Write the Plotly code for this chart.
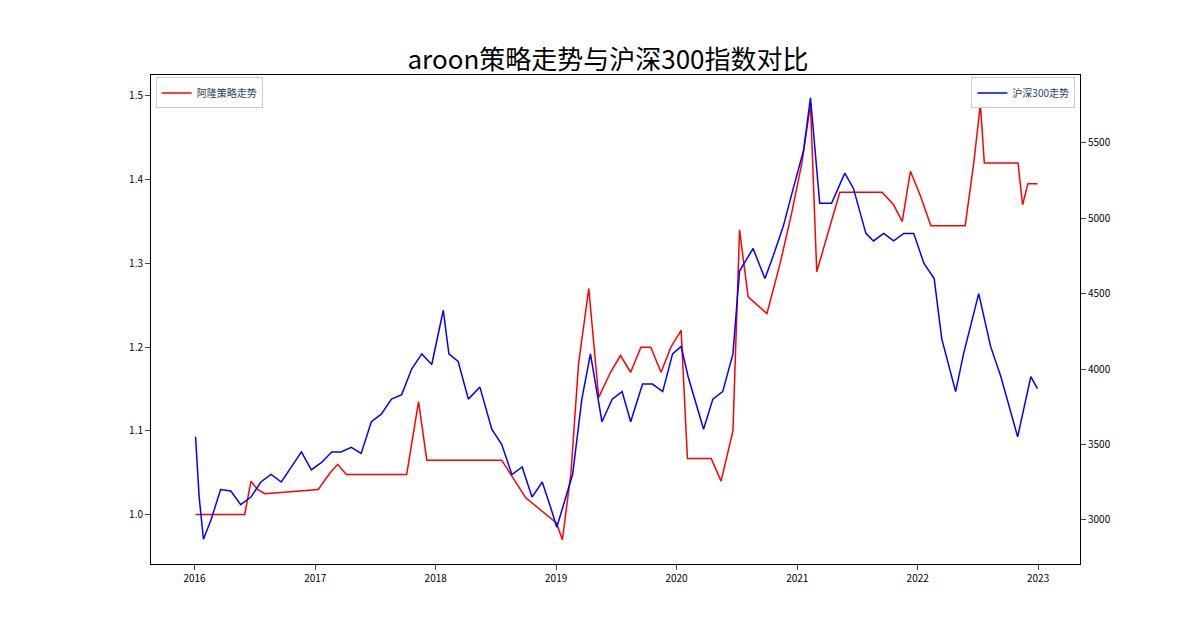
import plotly.graph_objects as go

# 沪深300 (right axis)
hs_dates = ["2016-01-04", "2016-01-15", "2016-01-28", "2016-02-20", "2016-03-20", "2016-04-20", "2016-05-20",
            "2016-06-20", "2016-07-20", "2016-08-20", "2016-09-20", "2016-10-20", "2016-11-20", "2016-12-20",
            "2017-01-20", "2017-02-20", "2017-03-20", "2017-04-20", "2017-05-20", "2017-06-20", "2017-07-20",
            "2017-08-20", "2017-09-20", "2017-10-20", "2017-11-20", "2017-12-20", "2018-01-24", "2018-02-10",
            "2018-03-10", "2018-04-10", "2018-05-15", "2018-06-20", "2018-07-20", "2018-08-20", "2018-09-20",
            "2018-10-20", "2018-11-20", "2018-12-20", "2019-01-03", "2019-02-20", "2019-03-20", "2019-04-15",
            "2019-05-20", "2019-06-20", "2019-07-20", "2019-08-15", "2019-09-20", "2019-10-20", "2019-11-20",
            "2019-12-20", "2020-01-15", "2020-02-05", "2020-03-23", "2020-04-20", "2020-05-20", "2020-06-20",
            "2020-07-10", "2020-08-20", "2020-09-25", "2020-10-20", "2020-11-20", "2020-12-20", "2021-01-20",
            "2021-02-10", "2021-03-10", "2021-04-15", "2021-05-25", "2021-06-20", "2021-07-28", "2021-08-20",
            "2021-09-20", "2021-10-20", "2021-11-20", "2021-12-20", "2022-01-20", "2022-02-20", "2022-03-15",
            "2022-04-26", "2022-05-20", "2022-07-05", "2022-08-10", "2022-09-10", "2022-10-05", "2022-10-31",
            "2022-11-20", "2022-12-10", "2022-12-30"]
hs_values = [3550, 3150, 2870, 3000, 3200, 3190, 3100, 3150, 3250, 3300, 3250, 3350, 3450, 3330,
             3380, 3450, 3450, 3480, 3440, 3650, 3700, 3800, 3830, 4000, 4100, 4030, 4390, 4100,
             4050, 3800, 3880, 3600, 3500, 3300, 3350, 3150, 3250, 3050, 2950, 3300, 3800, 4100,
             3650, 3800, 3850, 3650, 3900, 3900, 3850, 4100, 4150, 3950, 3600, 3800, 3850, 4100,
             4650, 4800, 4600, 4750, 4950, 5200, 5450, 5800, 5100, 5100, 5300, 5200, 4900, 4850,
             4900, 4850, 4900, 4900, 4700, 4600, 4200, 3850, 4100, 4500, 4150, 3950, 3750, 3550,
             3750, 3950, 3870]

# 阿隆策略 (left axis)
st_dates = ["2016-01-04", "2016-06-01", "2016-06-20", "2016-07-10", "2016-08-01", "2017-01-10", "2017-02-15",
            "2017-03-10", "2017-04-05", "2017-10-05", "2017-11-10", "2017-12-05", "2018-07-20", "2018-10-01",
            "2019-01-02", "2019-01-20", "2019-02-15", "2019-03-10", "2019-04-10", "2019-05-10", "2019-06-15",
            "2019-07-15", "2019-08-15", "2019-09-15", "2019-10-15", "2019-11-15", "2019-12-15", "2020-01-15",
            "2020-02-03", "2020-04-15", "2020-05-15", "2020-06-20", "2020-07-10", "2020-08-05", "2020-10-01",
            "2020-11-10", "2020-12-15", "2021-01-15", "2021-02-10", "2021-03-01", "2021-05-10", "2021-09-15",
            "2021-10-20", "2021-11-15", "2021-12-10", "2022-01-10", "2022-02-10", "2022-05-25", "2022-06-20",
            "2022-07-10", "2022-07-22", "2022-11-01", "2022-11-15", "2022-12-01", "2022-12-30"]
st_values = [1.0, 1.0, 1.04, 1.03, 1.025, 1.03, 1.05, 1.06, 1.048, 1.048, 1.135, 1.065, 1.065, 1.02,
             0.99, 0.97, 1.05, 1.18, 1.27, 1.14, 1.17, 1.19, 1.17, 1.2, 1.2, 1.17, 1.2, 1.22,
             1.067, 1.067, 1.04, 1.1, 1.34, 1.26, 1.24, 1.3, 1.36, 1.42, 1.49, 1.29, 1.385, 1.385,
             1.37, 1.35, 1.41, 1.38, 1.345, 1.345, 1.42, 1.49, 1.42, 1.42, 1.37, 1.395, 1.395]

fig = go.Figure()
fig.add_trace(go.Scatter(x=st_dates, y=st_values, mode="lines", name="阿隆策略走势", showlegend=True,
                         line=dict(color="red", width=1.5), legend="legend"))
fig.add_trace(go.Scatter(x=hs_dates, y=hs_values, mode="lines", name="沪深300走势", showlegend=True,
                         line=dict(color="blue", width=1.5), yaxis="y2", legend="legend2"))

axis_style = dict(showline=True, linecolor="black", ticks="outside",
                  showgrid=False, zeroline=False, tickfont=dict(size=10, color="black"))
fig.update_layout(
    width=1200, height=618, paper_bgcolor="white", plot_bgcolor="white",
    font=dict(family="Noto Sans CJK SC"), showlegend=True,
    title=dict(text="aroon策略走势与沪深300指数对比", x=0.5, y=0.93, xanchor="center",
               font=dict(size=26, color="black")),
    margin=dict(l=143, r=128, t=67, b=62),
    xaxis=dict(range=["2015-08-22", "2023-05-08"], tickformat="%Y", dtick="M12", mirror=True, **axis_style),
    yaxis=dict(range=[0.941, 1.525], tickvals=[1.0, 1.1, 1.2, 1.3, 1.4, 1.5], tickformat=".1f",
               mirror=True, **axis_style),
    yaxis2=dict(overlaying="y", side="right", range=[2706, 5951],
                tickvals=[3000, 3500, 4000, 4500, 5000, 5500], **axis_style),
    legend=dict(x=0.005, y=0.995, xanchor="left", yanchor="top", bordercolor="#ccc", borderwidth=1,
                font=dict(size=10)),
    legend2=dict(x=0.995, y=0.995, xanchor="right", yanchor="top", bordercolor="#ccc", borderwidth=1,
                 font=dict(size=10)),
)
fig.write_html("out.html")
